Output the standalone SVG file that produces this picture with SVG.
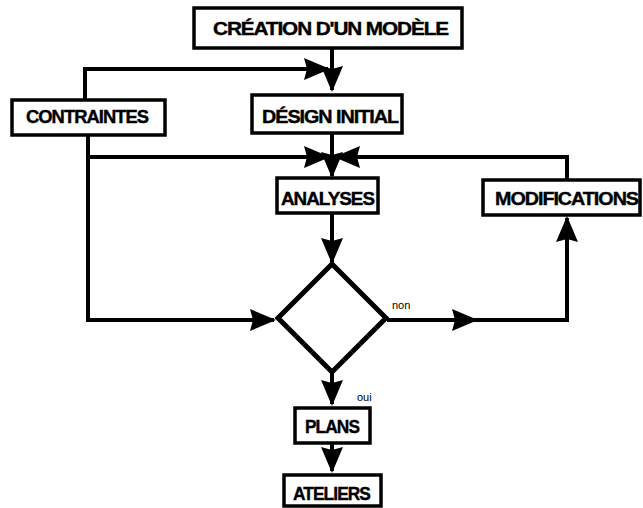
<svg xmlns="http://www.w3.org/2000/svg" width="643" height="508" viewBox="0 0 643 508">
<style>
.box{fill:#fff;stroke:#000;stroke-width:3.5}
.lbl{font-family:"Liberation Sans",Arial,sans-serif;font-weight:bold;font-size:19px;fill:#000;stroke:#000;stroke-width:0.4;letter-spacing:-1px}
.sm{font-family:"Liberation Sans",Arial,sans-serif;font-size:11px;fill:#000}
.ln{fill:none;stroke:#000;stroke-width:4;marker-end:url(#ah)}
</style>
<defs>
<marker id="ah" markerUnits="userSpaceOnUse" markerWidth="26" markerHeight="22" viewBox="0 0 26 22" refX="24" refY="11" orient="auto">
<path d="M0,0 L26,11 L0,22 L3,11 z" fill="#000"/>
</marker>
</defs>
<rect width="643" height="508" fill="#fff"/>
<g id="connectors">
<path class="ln" d="M332,48 V90"/>
<path class="ln" d="M85,101 V69 H328"/>
<path class="ln" d="M332,133 V176"/>
<path class="ln" d="M88,135 V320 H274"/>
<path class="ln" d="M88,157 H328"/>
<path class="ln" d="M567,180 V157 H336"/>
<path class="ln" d="M332,213 V262"/>
<path class="ln" d="M387,320 H476"/>
<path class="ln" d="M470,320 H567 V218"/>
<path class="ln" d="M332,372 V404"/>
<path class="ln" d="M332,443 V471"/>
<text class="sm" x="392" y="309">non</text>
<text class="sm" x="357" y="401" font-size="9">oui</text>
</g>
<g id="creation">
<rect class="box" x="194" y="8" width="268" height="40"/>
<text class="lbl" x="213" y="35" textLength="235" lengthAdjust="spacingAndGlyphs">CRÉATION D'UN MODÈLE</text>
</g>
<g id="contraintes">
<rect class="box" x="12" y="100" width="153" height="35"/>
<text class="lbl" x="26" y="123" textLength="122" lengthAdjust="spacingAndGlyphs">CONTRAINTES</text>
</g>
<g id="design">
<rect class="box" x="252" y="95" width="150" height="38"/>
<text class="lbl" x="262" y="123" textLength="136" lengthAdjust="spacingAndGlyphs">DÉSIGN INITIAL</text>
</g>
<g id="analyses">
<rect class="box" x="277" y="178" width="101" height="35"/>
<text class="lbl" x="281" y="205" textLength="93" lengthAdjust="spacingAndGlyphs">ANALYSES</text>
</g>
<g id="modifications">
<rect class="box" x="483" y="180" width="157" height="35"/>
<text class="lbl" x="495" y="205" textLength="143" lengthAdjust="spacingAndGlyphs">MODIFICATIONS</text>
</g>
<g id="decision">
<path d="M332,264 L386,318 L332,372 L278,318 z" fill="#fff" stroke="#000" stroke-width="5" stroke-linejoin="miter"/>
</g>
<g id="plans">
<rect class="box" x="295" y="408" width="75" height="35"/>
<text class="lbl" x="305" y="433" textLength="54" lengthAdjust="spacingAndGlyphs">PLANS</text>
</g>
<g id="ateliers">
<rect class="box" x="284" y="475" width="97" height="31"/>
<text class="lbl" x="293" y="500" textLength="77" lengthAdjust="spacingAndGlyphs">ATELIERS</text>
</g>
</svg>
